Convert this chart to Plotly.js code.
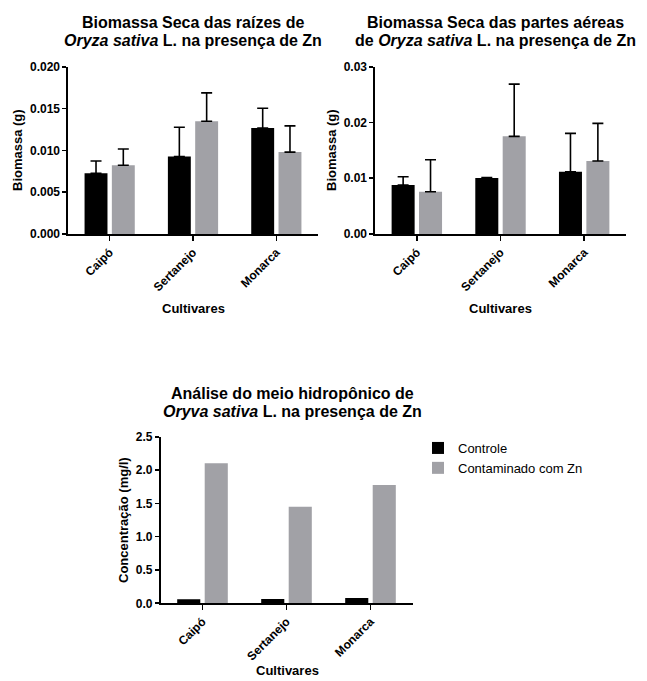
<!DOCTYPE html>
<html>
<head>
<meta charset="utf-8">
<script src="https://cdn.plot.ly/plotly-3.0.1.min.js"></script>
<style>html,body{margin:0;padding:0;background:#fff;}#chart{width:647px;height:681px;}</style>
</head>
<body>
<div id="chart"></div>
<script>
const categories = ["Caipó", "Sertanejo", "Monarca"];
const seriesNames = ["Controle", "Contaminado com Zn"];

// Chart 1: Biomassa seca das raízes (g)
const raizControle = [0.00726, 0.00925, 0.01268];
const raizControleErr = [0.00147, 0.00351, 0.00235];
const raizZn = [0.00822, 0.01348, 0.00979];
const raizZnErr = [0.00195, 0.00339, 0.00313];

// Chart 2: Biomassa seca das partes aéreas (g)
const aereaControle = [0.00878, 0.01004, 0.01116];
const aereaControleErr = [0.00149, 0.00008, 0.00689];
const aereaZn = [0.00758, 0.01751, 0.01308];
const aereaZnErr = [0.00574, 0.00937, 0.00676];

// Chart 3: Concentração (mg/l) no meio hidropônico
const meioControle = [0.06, 0.065, 0.08];
const meioZn = [2.10, 1.45, 1.775];

const yTicks1 = [0, 0.005, 0.010, 0.015, 0.020];
const yTicks2 = [0, 0.01, 0.02, 0.03];
const yTicks3 = [0, 0.5, 1.0, 1.5, 2.0, 2.5];

const BLACK = "#000000";
const GRAY = "#a1a1a6";
const FONT = "Liberation Sans, Arial, sans-serif";

function errBar(arr) {
  return {type: "data", array: arr, arrayminus: arr.map(() => 0), symmetric: false,
          color: "#000000", thickness: 1.6, width: 5.5, visible: true};
}

const traces = [
  {type: "bar", x: categories, y: raizControle, name: seriesNames[0], marker: {color: BLACK},
   error_y: errBar(raizControleErr), xaxis: "x", yaxis: "y", showlegend: false, legendgroup: "c"},
  {type: "bar", x: categories, y: raizZn, name: seriesNames[1], marker: {color: GRAY},
   error_y: errBar(raizZnErr), xaxis: "x", yaxis: "y", showlegend: false, legendgroup: "z"},
  {type: "bar", x: categories, y: aereaControle, name: seriesNames[0], marker: {color: BLACK},
   error_y: errBar(aereaControleErr), xaxis: "x2", yaxis: "y2", showlegend: false, legendgroup: "c"},
  {type: "bar", x: categories, y: aereaZn, name: seriesNames[1], marker: {color: GRAY},
   error_y: errBar(aereaZnErr), xaxis: "x2", yaxis: "y2", showlegend: false, legendgroup: "z"},
  {type: "bar", x: categories, y: meioControle, name: seriesNames[0], marker: {color: BLACK},
   xaxis: "x3", yaxis: "y3", showlegend: true, legendgroup: "c"},
  {type: "bar", x: categories, y: meioZn, name: seriesNames[1], marker: {color: GRAY},
   xaxis: "x3", yaxis: "y3", showlegend: true, legendgroup: "z"}
];

const W = 647, H = 681;
const px = v => v / W;
const py = v => 1 - v / H;

function xAxis(d0, d1, anchor) {
  return {domain: [px(d0), px(d1)], anchor: anchor, type: "category", range: [-0.5, 2.5],
          showline: true, linecolor: "#000", linewidth: 1.6, ticks: "outside", ticklen: 5,
          tickwidth: 1.6, tickcolor: "#000", tickangle: -45, showgrid: false, zeroline: false,
          tickfont: {family: FONT, size: 12, color: "#000", weight: "bold"}, fixedrange: true};
}
function yAxis(d0, d1, anchor, tickvals, fmt, maxv) {
  return {domain: [py(d1), py(d0)], anchor: anchor, range: [0, maxv], tickvals: tickvals,
          tickformat: fmt, showline: true, linecolor: "#000", linewidth: 1.6, ticks: "outside",
          ticklen: 4, tickwidth: 1.6, tickcolor: "#000", showgrid: false, zeroline: false,
          tickfont: {family: FONT, size: 12, color: "#000", weight: "bold"}, fixedrange: true};
}

const titleFont = {family: FONT, size: 16, color: "#000", weight: "bold"};
const axFont = {family: FONT, size: 13, color: "#000", weight: "bold"};

function ann(text, x, y, font, extra) {
  return Object.assign({text: text, xref: "paper", yref: "paper", x: px(x), y: py(y),
    xanchor: "center", yanchor: "middle", showarrow: false, font: font}, extra || {});
}

const annotations = [
  ann("Biomassa Seca das raízes de", 193, 22, titleFont),
  ann("<i>Oryza sativa</i> L. na presença de Zn", 193, 40, titleFont),
  ann("Biomassa Seca das partes aéreas", 496, 22, titleFont),
  ann("de <i>Oryza sativa</i> L. na presença de Zn", 496, 40, titleFont),
  ann("Análise do meio hidropônico de", 292, 393, titleFont),
  ann("<i>Oryva sativa</i> L. na presença de Zn", 292, 411, titleFont),
  ann("Biomassa (g)", 18, 150, axFont, {textangle: -90}),
  ann("Biomassa (g)", 332, 150, axFont, {textangle: -90}),
  ann("Concentração (mg/l)", 123, 520, axFont, {textangle: -90}),
  ann("Cultivares", 193, 308, axFont),
  ann("Cultivares", 500, 308, axFont),
  ann("Cultivares", 287, 670, axFont)
];

const layout = {
  width: W, height: H,
  margin: {l: 0, r: 0, t: 0, b: 0},
  paper_bgcolor: "#fff", plot_bgcolor: "#fff",
  font: {family: FONT, color: "#000"},
  barmode: "group", bargap: 0.345, bargroupgap: 0.16,
  showlegend: true,
  legend: {x: px(418), y: py(433), xanchor: "left", yanchor: "top",
           font: {family: FONT, size: 13, color: "#000"}, bgcolor: "rgba(0,0,0,0)",
           tracegroupgap: 0, itemclick: false, itemdoubleclick: false},
  xaxis: xAxis(68, 318, "y"),
  yaxis: yAxis(66.7, 234, "x", yTicks1, ".3f", 0.020),
  xaxis2: xAxis(375, 626, "y2"),
  yaxis2: yAxis(66.7, 234, "x2", yTicks2, ".2f", 0.030),
  xaxis3: xAxis(160.5, 412.5, "y3"),
  yaxis3: yAxis(436.7, 603.3, "x3", yTicks3, ".1f", 2.5),
  annotations: annotations
};

Plotly.newPlot("chart", traces, layout, {displayModeBar: false, staticPlot: true});
</script>
</body>
</html>
